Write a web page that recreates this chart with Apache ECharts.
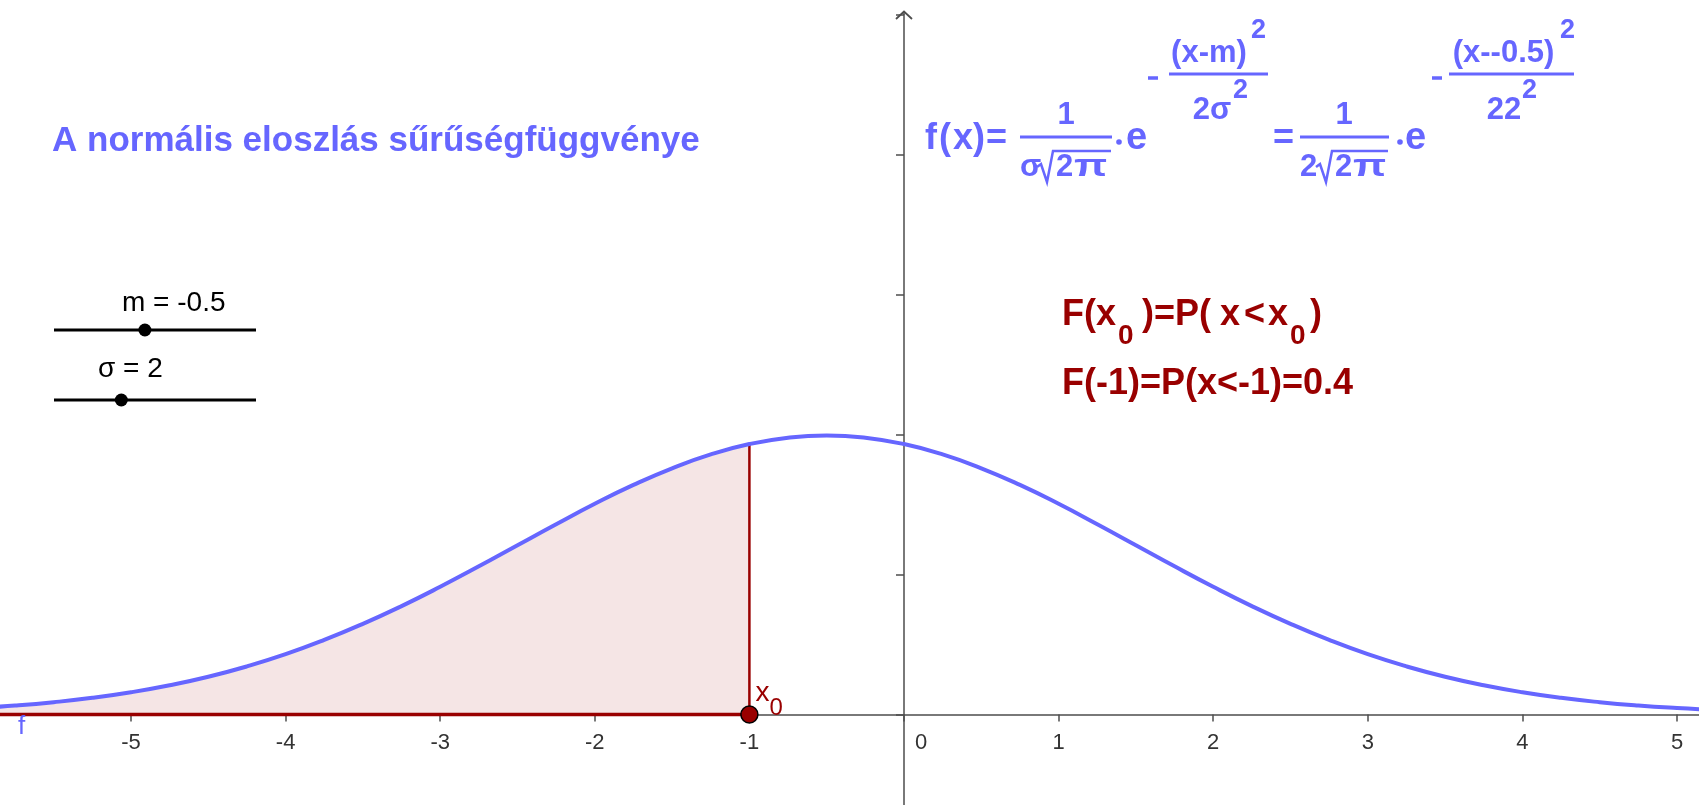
<!DOCTYPE html>
<html>
<head>
<meta charset="utf-8">
<script src="https://cdn.jsdelivr.net/npm/echarts@6/dist/echarts.min.js"></script>
<style>
  html, body { margin: 0; padding: 0; background: #ffffff; }
  #chart { width: 1699px; height: 805px; }
</style>
</head>
<body>
<div id="chart"></div>
<script>
// Normal density f(x) with mean m = -0.5 and sigma = 2, sampled every 0.25
const xValues = [-6, -5.75, -5.5, -5.25, -5, -4.75, -4.5, -4.25, -4, -3.75, -3.5, -3.25,
                 -3, -2.75, -2.5, -2.25, -2, -1.75, -1.5, -1.25, -1, -0.75, -0.5, -0.25,
                 0, 0.25, 0.5, 0.75, 1, 1.25, 1.5, 1.75, 2, 2.25, 2.5, 2.75,
                 3, 3.25, 3.5, 3.75, 4, 4.25, 4.5, 4.75, 5, 5.25, 5.5, 5.75, 6];
const densityValues = [0.0046, 0.0064, 0.0088, 0.0119, 0.0159, 0.0209, 0.0270, 0.0344,
                       0.0431, 0.0533, 0.0648, 0.0775, 0.0913, 0.1059, 0.1210, 0.1360,
                       0.1506, 0.1641, 0.1760, 0.1859, 0.1933, 0.1979, 0.1995, 0.1979,
                       0.1933, 0.1859, 0.1760, 0.1641, 0.1506, 0.1360, 0.1210, 0.1059,
                       0.0913, 0.0775, 0.0648, 0.0533, 0.0431, 0.0344, 0.0270, 0.0209,
                       0.0159, 0.0119, 0.0088, 0.0064, 0.0046, 0.0032, 0.0022, 0.0015, 0.0010];

// Parameters shown on the sliders and in the probability statement
const meanValue = -0.5;
const sigmaValue = 2;
const meanRange = [-5, 5];
const sigmaRange = [0, 6];
const x0Value = -1;
const cdfValue = 0.4;

// Axis ranges, tick steps and x tick labels
const xRange = [-6, 6];
const xStep = 1;
const yRange = [-0.1, 0.5];
const yStep = 0.1;
const xTickLabels = [-5, -4, -3, -2, -1, 0, 1, 2, 3, 4, 5];

const BLUE = '#6666ff';
const RED = '#990000';
const AXIS = '#4d4d4d';
const FONT = '"Liberation Sans", Arial, sans-serif';

const curve = xValues.map((x, i) => [x, densityValues[i]]);
const shaded = curve.filter(p => p[0] <= x0Value);
const fx0 = densityValues[xValues.indexOf(x0Value)];

const chart = echarts.init(document.getElementById('chart'), null, { renderer: 'canvas' });

const option = {
  animation: false,
  backgroundColor: '#ffffff',
  grid: {
    left: -23.6, right: -132.6, top: 15, bottom: -49.4,
    containLabel: false, outerBoundsMode: 'none'
  },
  xAxis: {
    type: 'value', min: xRange[0], max: xRange[1], interval: xStep,
    axisLine: { onZero: true, lineStyle: { color: AXIS, width: 1.5 } },
    axisTick: { show: true, length: 7, lineStyle: { color: AXIS, width: 1.5 } },
    splitLine: { show: false },
    axisLabel: { show: false }
  },
  yAxis: {
    type: 'value', min: yRange[0], max: yRange[1], interval: yStep,
    axisLine: { onZero: true, lineStyle: { color: AXIS, width: 1.5 } },
    axisTick: { show: true, length: 8, lineStyle: { color: AXIS, width: 1.5 } },
    axisLabel: { show: false },
    splitLine: { show: false }
  },
  series: [
    {
      // area under the density up to x0
      type: 'line', data: shaded, smooth: true, showSymbol: false, z: 1,
      lineStyle: { width: 0 },
      areaStyle: { color: '#f5e5e5', opacity: 1 }
    },
    {
      type: 'line', data: [[xRange[0], 0], [x0Value, 0]], showSymbol: false, z: 3,
      lineStyle: { color: RED, width: 3.5 }
    },
    {
      type: 'line', data: [[x0Value, 0], [x0Value, fx0]], showSymbol: false, z: 3,
      lineStyle: { color: RED, width: 2.5 }
    },
    {
      type: 'line', data: curve, smooth: true, showSymbol: false, z: 4,
      lineStyle: { color: BLUE, width: 4 }
    },
    {
      type: 'scatter', data: [[x0Value, 0]], symbolSize: 17, z: 6,
      itemStyle: { color: RED, borderColor: '#000000', borderWidth: 1.5, opacity: 1 }
    }
  ]
};
chart.setOption(option);

// Text helper: x is the anchor (left edge or centre), base is the text baseline
function txt(x, base, str, size, color, weight, align, sx) {
  return {
    type: 'text', z: 10, silent: true,
    x: x, y: base - 0.35 * size, scaleX: sx || 1,
    style: {
      x: 0, y: 0, text: str,
      font: (weight || 'bold') + ' ' + size + 'px ' + FONT,
      fill: color, align: align || 'left', verticalAlign: 'middle'
    }
  };
}
function seg(x1, y1, x2, y2, color, w) {
  return { type: 'line', z: 10, silent: true,
    shape: { x1: x1, y1: y1, x2: x2, y2: y2 },
    style: { stroke: color, lineWidth: w, lineCap: 'butt' } };
}
function poly(points, color, w) {
  return { type: 'polyline', z: 10, silent: true,
    shape: { points: points }, style: { stroke: color, lineWidth: w, fill: null, lineJoin: 'miter' } };
}
function dot(cx, cy, r, color) {
  return { type: 'circle', z: 10, silent: true, shape: { cx: cx, cy: cy, r: r }, style: { fill: color } };
}

const g = [];

// Title
g.push(txt(52, 154, 'A normális eloszlás sűrűségfüggvénye', 35, BLUE));

// Sliders for m and sigma
const sliderX = [54, 256];
function sliderPos(v, range) {
  return sliderX[0] + (v - range[0]) / (range[1] - range[0]) * (sliderX[1] - sliderX[0]);
}
g.push(txt(122, 313, 'm = ' + meanValue, 28, '#000000', 'normal'));
g.push(seg(sliderX[0], 330, sliderX[1], 330, '#000000', 3));
g.push(dot(sliderPos(meanValue, meanRange), 330, 6.5, '#000000'));
g.push(txt(98, 379, 'σ = ' + sigmaValue, 28, '#000000', 'normal'));
g.push(seg(sliderX[0], 400, sliderX[1], 400, '#000000', 3));
g.push(dot(sliderPos(sigmaValue, sigmaRange), 400, 6.5, '#000000'));

// Density formula, general form
g.push(txt(925, 152, 'f', 36, BLUE));
g.push(txt(939, 152, '(', 36, BLUE));
g.push(txt(953, 152, 'x', 36, BLUE));
g.push(txt(973, 152, ')', 36, BLUE));
g.push(txt(986, 152, '=', 36, BLUE));
g.push(seg(1020, 137, 1112, 137, BLUE, 3));
g.push(txt(1066, 126, '1', 31, BLUE, 'bold', 'center'));
g.push(txt(1020, 178, 'σ', 31, BLUE));
g.push(poly([[1037, 167], [1041, 164], [1047, 182], [1053, 151], [1111, 151]], BLUE, 2.5));
g.push(txt(1056, 178, '2', 31, BLUE));
g.push(txt(1074, 178, 'π', 31, BLUE, 'bold', 'left', 1.4));
g.push(dot(1119, 142, 2.8, BLUE));
g.push(txt(1126, 152, 'e', 38, BLUE));
g.push(seg(1148, 78, 1158, 78, BLUE, 3.5));
g.push(seg(1169, 74, 1268, 74, BLUE, 3));
g.push(txt(1209, 64, '(x-m)', 31, BLUE, 'bold', 'center'));
g.push(txt(1251, 40, '2', 27, BLUE));
g.push(txt(1212, 121.5, '2σ', 31, BLUE, 'bold', 'center'));
g.push(txt(1233, 99.5, '2', 27, BLUE));

// Density formula with the parameters substituted
g.push(txt(1273, 152, '=', 36, BLUE));
g.push(seg(1300, 137, 1389, 137, BLUE, 3));
g.push(txt(1344, 126, '1', 31, BLUE, 'bold', 'center'));
g.push(txt(1300, 178, String(sigmaValue), 31, BLUE));
g.push(poly([[1316, 167], [1320, 164], [1326, 182], [1332, 151], [1388, 151]], BLUE, 2.5));
g.push(txt(1335, 178, '2', 31, BLUE));
g.push(txt(1353, 178, 'π', 31, BLUE, 'bold', 'left', 1.4));
g.push(dot(1400, 142, 2.8, BLUE));
g.push(txt(1405, 152, 'e', 38, BLUE));
g.push(seg(1432, 78, 1442, 78, BLUE, 3.5));
g.push(seg(1449, 74, 1574, 74, BLUE, 3));
g.push(txt(1503.5, 64, '(x--' + Math.abs(meanValue) + ')', 31, BLUE, 'bold', 'center'));
g.push(txt(1560, 40, '2', 27, BLUE));
g.push(txt(1504, 121.5, String(sigmaValue) + String(sigmaValue), 31, BLUE, 'bold', 'center'));
g.push(txt(1522, 99.5, '2', 27, BLUE));

// Distribution function statement
g.push(txt(1062, 327.5, 'F(', 36, RED));
g.push(txt(1096, 327.5, 'x', 36, RED));
g.push(txt(1118, 346, '0', 28, RED));
g.push(txt(1142, 327.5, ')=P(', 36, RED));
g.push(txt(1220, 327.5, 'x', 36, RED));
g.push(txt(1244, 327.5, '<', 36, RED));
g.push(txt(1268, 327.5, 'x', 36, RED));
g.push(txt(1290, 346, '0', 28, RED));
g.push(txt(1310, 327.5, ')', 36, RED));
g.push(txt(1062, 397, 'F(' + x0Value + ')=P(x<' + x0Value + ')=' + cdfValue, 36, RED));

// x tick labels placed through the axis scale
xTickLabels.forEach(v => {
  const p = chart.convertToPixel({ gridIndex: 0 }, [v, 0]);
  g.push(txt(p[0] + (v === 0 ? 17 : 0), p[1] + 36, String(v), 22, '#333333', 'normal', 'center'));
});

// Labels attached to the plotted objects
const p0 = chart.convertToPixel({ gridIndex: 0 }, [x0Value, 0]);
g.push(txt(p0[0] + 6, p0[1] - 11, 'x', 28, RED, 'normal'));
g.push(txt(p0[0] + 20, p0[1] + 2, '0', 24, RED, 'normal'));
g.push(txt(18, p0[1] + 21, 'f', 26, BLUE, 'normal'));

// Arrow head at the top of the y axis
const pTop = chart.convertToPixel({ gridIndex: 0 }, [0, yRange[1]]);
g.push(seg(pTop[0], pTop[1], pTop[0], pTop[1] - 3, AXIS, 1.5));
g.push(poly([[pTop[0] - 8, pTop[1] + 4], [pTop[0], pTop[1] - 3.5], [pTop[0] + 8, pTop[1] + 4]], AXIS, 1.8));

chart.setOption({ graphic: { elements: g } });
</script>
</body>
</html>
